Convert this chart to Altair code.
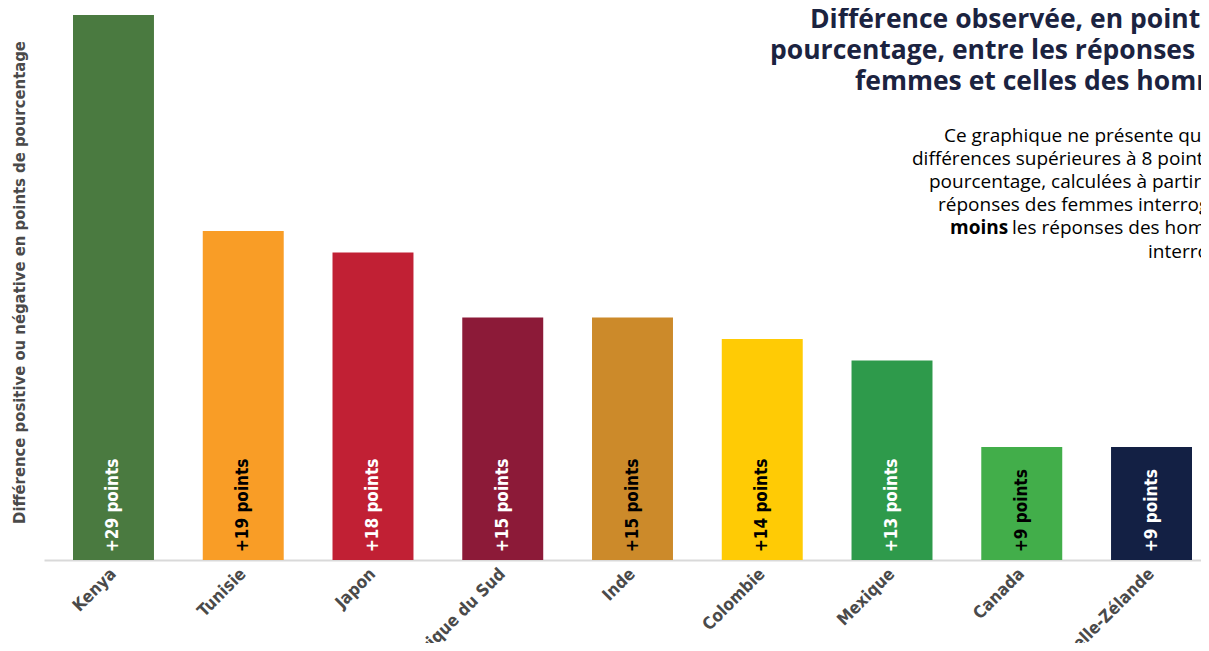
import altair as alt
import pandas as pd

countries = ["Kenya", "Tunisie", "Japon", "Afrique du Sud", "Inde", "Colombie",
             "Mexique", "Canada", "Nouvelle-Zélande"]
values = [29, 19, 18, 15, 15, 14, 13, 9, 9]
bar_colors = ["#4a7a40", "#f99d26", "#c12034", "#8c1a38", "#cc8a2a", "#ffcb05",
              "#2e9a4b", "#42ae4a", "#132044"]
text_colors = ["#ffffff", "#000000", "#ffffff", "#ffffff", "#000000", "#000000",
               "#ffffff", "#000000", "#ffffff"]

title_lines = ["Différence observée, en points de",
               "pourcentage, entre les réponses des",
               "femmes et celles des hommes"]
note_lines = ["Ce graphique ne présente que les",
              "différences supérieures à 8 points de",
              "pourcentage, calculées à partir des",
              "réponses des femmes interrogées",
              ("moins", "les réponses des hommes"),
              "interrogés."]
y_title = "Différence positive ou négative en points de pourcentage"

Y_MIN = 3.77
Y_MAX = 29

df = pd.DataFrame({
    "pays": countries,
    "valeur": values,
    "etiquette": [f"+{v} points" for v in values],
})

COND = "Liberation Sans Narrow, DejaVu Sans Condensed, sans-serif"
SANS = "Open Sans, Roboto, sans-serif"

x_enc = alt.X("pays:N", sort=countries,
              scale=alt.Scale(range=[0, 1177], paddingInner=0.376, paddingOuter=0.2235),
              axis=alt.Axis(title=None, labelAngle=-45, labelAlign="right",
                            labelBaseline="middle", labelPadding=11, labelFont=COND,
                            labelFontSize=17, labelFontWeight="bold", labelColor="#4a4a4a",
                            ticks=False, domainColor="#d9d9d9", domainWidth=2))
y_enc = alt.Y("valeur:Q",
              scale=alt.Scale(domain=[Y_MIN, Y_MAX], zero=False, nice=False),
              axis=alt.Axis(labels=False, ticks=False, domain=False, grid=False,
                            title=y_title, titleFont=COND, titleFontSize=16.5,
                            titleFontWeight="bold", titleColor="#4a4a4a",
                            titleX=-25, titleY=267, titleAngle=270,
                            titleAlign="center", titleBaseline="middle"))

bars = alt.Chart(df).mark_bar().encode(
    x=x_enc,
    y=y_enc,
    y2=alt.datum(Y_MIN),
    color=alt.Color("pays:N", scale=alt.Scale(domain=countries, range=bar_colors), legend=None),
)

labels = alt.Chart(df).mark_text(
    angle=270, align="left", baseline="middle", dx=8,
    font=COND, fontSize=17, fontWeight="bold",
).encode(
    x=x_enc,
    y=alt.datum(Y_MIN),
    text="etiquette:N",
    color=alt.Color("pays:N", scale=alt.Scale(domain=countries, range=text_colors), legend=None),
)

one = alt.Data(values=[{}])
annots = []
title_x = [766, 726, 811]
for i, line in enumerate(title_lines):
    annots.append(alt.Chart(one).mark_text(
        text=line, align="left", baseline="alphabetic", font=SANS, fontSize=26.5,
        fontWeight="bold", color="#1b2340",
    ).encode(x=alt.value(title_x[i]), y=alt.value(13 + 31 * i)))

note_x = [900, 868, 885, 894, None, 1104]
for i, line in enumerate(note_lines):
    yv = 127 + 23.1 * i
    if isinstance(line, tuple):
        annots.append(alt.Chart(one).mark_text(
            text=line[0], align="left", baseline="alphabetic", font=SANS, fontSize=19,
            fontWeight="bold", color="#000000",
        ).encode(x=alt.value(906), y=alt.value(yv)))
        annots.append(alt.Chart(one).mark_text(
            text=line[1], align="left", baseline="alphabetic", font=SANS, fontSize=19,
            color="#000000",
        ).encode(x=alt.value(968), y=alt.value(yv)))
    else:
        annots.append(alt.Chart(one).mark_text(
            text=line, align="left", baseline="alphabetic", font=SANS, fontSize=19,
            color="#000000",
        ).encode(x=alt.value(note_x[i]), y=alt.value(yv)))

chart = alt.layer(bars, labels, *annots).resolve_scale(color="independent").properties(
    width=1157, height=545,
    padding={"left": 36, "top": 7, "right": 0, "bottom": 83},
    autosize=alt.AutoSizeParams(type="none"),
).configure_view(stroke=None)

chart.save("out.html", embed_options={"renderer": "svg", "actions": False})
